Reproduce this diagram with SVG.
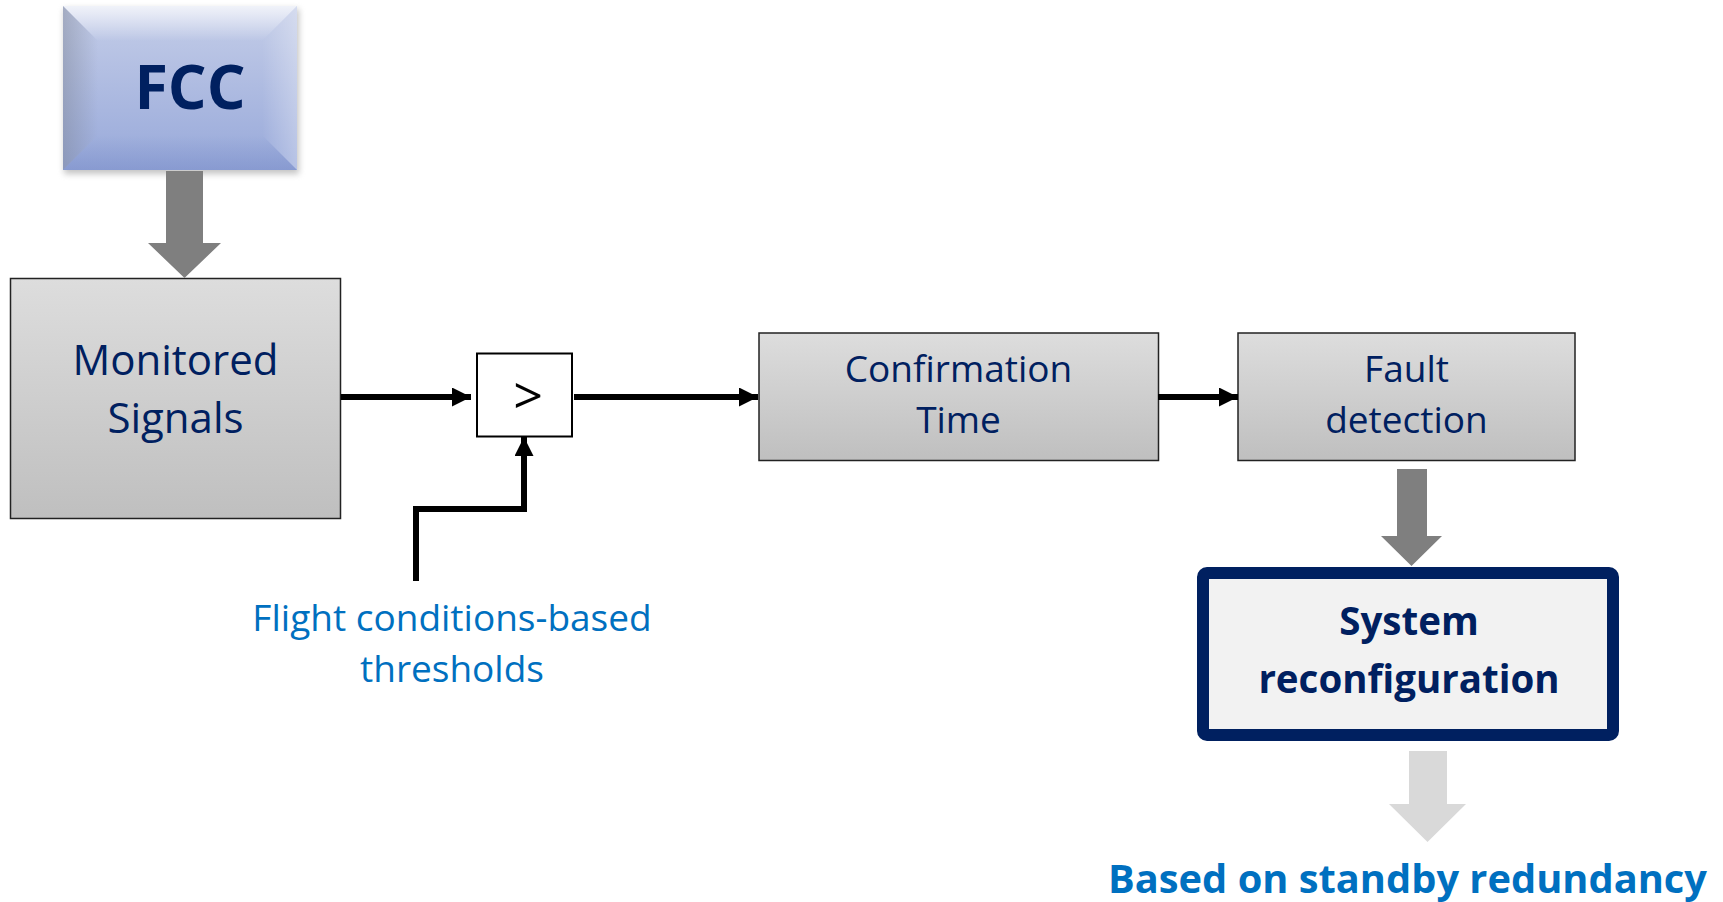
<svg xmlns="http://www.w3.org/2000/svg" width="1723" height="902" viewBox="0 0 1723 902">
<style>
.lbl{font-family:"Open Sans","Liberation Sans",sans-serif;fill:#002060;text-anchor:middle}
.bold{font-weight:bold}
.blue{fill:#0070c0}
.conn{fill:none;stroke:#000;stroke-width:6}
.gbox{fill:url(#gray);stroke:#222;stroke-width:1.5}
</style>
<defs>
<linearGradient id="gray" x1="0" y1="0" x2="0" y2="1">
<stop offset="0" stop-color="#dddddd"/><stop offset="1" stop-color="#bfbfbf"/>
</linearGradient>
<linearGradient id="fcc" x1="0" y1="0" x2="0" y2="1">
<stop offset="0" stop-color="#c4cde8"/><stop offset="1" stop-color="#98a9da"/>
</linearGradient>
<linearGradient id="bvTop" x1="0" y1="0" x2="0" y2="1">
<stop offset="0" stop-color="#fff" stop-opacity="0.75"/><stop offset="1" stop-color="#fff" stop-opacity="0"/>
</linearGradient>
<linearGradient id="bvLeft" x1="0" y1="0" x2="1" y2="0">
<stop offset="0" stop-color="#7d8494" stop-opacity="0.45"/><stop offset="1" stop-color="#7d8494" stop-opacity="0"/>
</linearGradient>
<linearGradient id="bvRight" x1="0" y1="0" x2="1" y2="0">
<stop offset="0" stop-color="#fff" stop-opacity="0"/><stop offset="1" stop-color="#fff" stop-opacity="0.3"/>
</linearGradient>
<linearGradient id="bvBot" x1="0" y1="0" x2="0" y2="1">
<stop offset="0" stop-color="#6a7fbf" stop-opacity="0"/><stop offset="1" stop-color="#6a7fbf" stop-opacity="0.35"/>
</linearGradient>
<filter id="sh" x="-10%" y="-10%" width="130%" height="130%">
<feGaussianBlur stdDeviation="3"/>
</filter>
<marker id="ah" markerUnits="userSpaceOnUse" markerWidth="19" markerHeight="19" refX="19" refY="9.5" orient="auto">
<path d="M0,0 L19,9.5 L0,19 z" fill="#000"/>
</marker>
</defs>
<rect width="1723" height="902" fill="#fff"/>

<g id="fcc-node">
<rect x="64" y="9" width="235" height="165" fill="#8a8a8a" opacity="0.5" filter="url(#sh)"/>
<rect x="63" y="6" width="234" height="164" fill="url(#fcc)"/>
<polygon points="63,6 297,6 262,41 98,41" fill="url(#bvTop)"/>
<polygon points="63,6 98,41 98,135 63,170" fill="url(#bvLeft)"/>
<polygon points="297,6 297,170 262,135 262,41" fill="url(#bvRight)"/>
<polygon points="63,170 98,135 262,135 297,170" fill="url(#bvBot)"/>
<text class="lbl bold" x="190" y="109" font-size="61">FCC</text>
</g>

<g id="monitored-node">
<rect class="gbox" x="10.5" y="278.5" width="330" height="240"/>
<text class="lbl" x="175.5" y="375" font-size="42">Monitored</text>
<text class="lbl" x="175.5" y="432.7" font-size="42">Signals</text>
</g>

<g id="compare-node">
<rect x="477" y="353.5" width="95" height="83" fill="#fff" stroke="#000" stroke-width="2"/>
<text x="528" y="414" font-size="52" font-family="Open Sans, Liberation Sans, sans-serif" text-anchor="middle" fill="#000">&gt;</text>
</g>

<g id="confirmation-node">
<rect class="gbox" x="759" y="333" width="399.5" height="127.5"/>
<text class="lbl" x="958.5" y="381.7" font-size="37">Confirmation</text>
<text class="lbl" x="958.5" y="433.3" font-size="37">Time</text>
</g>

<g id="fault-node">
<rect class="gbox" x="1238" y="333" width="337" height="127.5"/>
<text class="lbl" x="1406.5" y="381.7" font-size="37">Fault</text>
<text class="lbl" x="1406.5" y="433.3" font-size="37">detection</text>
</g>

<g id="reconfig-node">
<rect x="1203" y="573" width="410" height="162" rx="4" fill="#f2f2f2" stroke="#002060" stroke-width="12" stroke-linejoin="round"/>
<text class="lbl bold" x="1409" y="635" font-size="38.5">System</text>
<text class="lbl bold" x="1409" y="692.7" font-size="38.5">reconfiguration</text>
</g>

<g id="threshold-label">
<text class="lbl blue" x="452" y="631" font-size="37">Flight conditions-based</text>
<text class="lbl blue" x="452" y="681.7" font-size="37">thresholds</text>
</g>

<g id="standby-label">
<text class="lbl bold blue" x="1407.5" y="893" font-size="39.8">Based on standby redundancy</text>
</g>

<g id="connectors">
<polygon points="166,171 203,171 203,243 221,243 184.5,278 148,243 166,243" fill="#7f7f7f"/>
<polygon points="1397,469 1427,469 1427,536 1442,536 1411.5,566 1381,536 1397,536" fill="#7f7f7f"/>
<polygon points="1409,751 1447,751 1447,804 1466,804 1427.5,842 1389,804 1409,804" fill="#d9d9d9"/>
<path class="conn" d="M341,397 H471" marker-end="url(#ah)"/>
<path class="conn" d="M574,397 H758" marker-end="url(#ah)"/>
<path class="conn" d="M416,581 V509 H524 V437" marker-end="url(#ah)"/>
<path class="conn" d="M1158,397 H1238" marker-end="url(#ah)"/>
</g>
</svg>
